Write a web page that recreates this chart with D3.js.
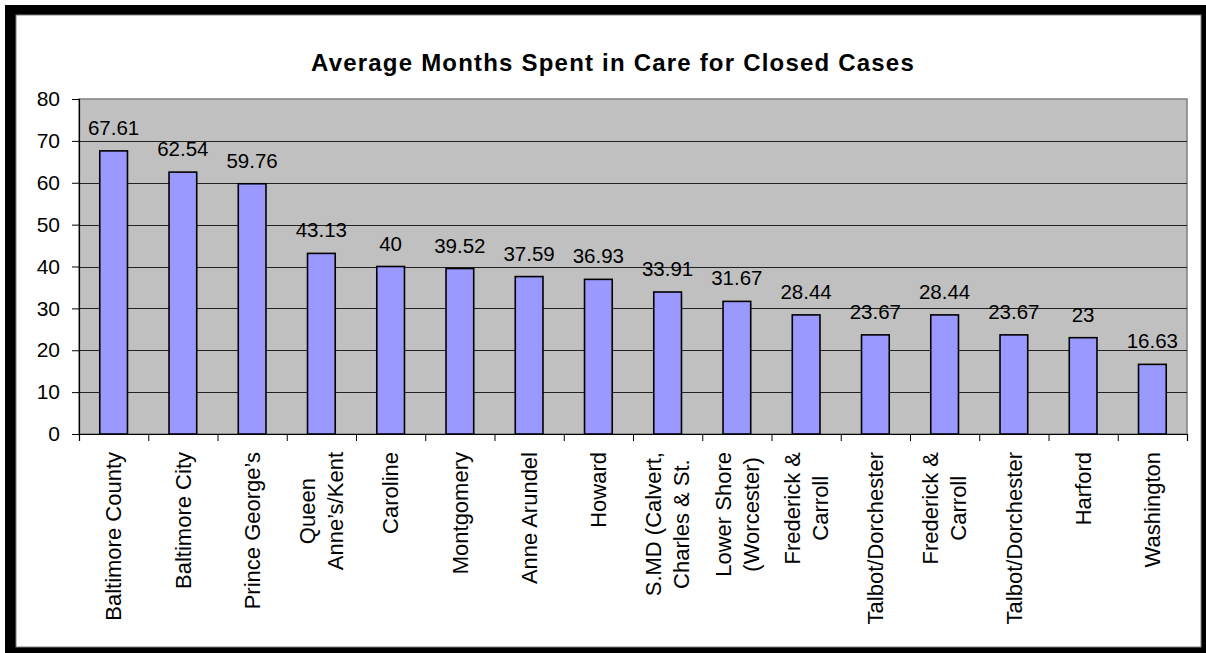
<!DOCTYPE html>
<html>
<head>
<meta charset="utf-8">
<script src="https://cdn.jsdelivr.net/npm/d3@7"></script>
<style>
  html, body { margin: 0; padding: 0; background: #fff; }
  svg { display: block; font-family: "Liberation Sans", Arial, sans-serif; }
</style>
</head>
<body>
<svg id="chart" width="1206" height="653"></svg>
<script>
const title = "Average Months Spent in Care for Closed Cases";
const categories = [
  ["Baltimore County"],
  ["Baltimore City"],
  ["Prince George\u2019s"],
  ["Queen", "Anne\u2019s/Kent"],
  ["Caroline"],
  ["Montgomery"],
  ["Anne Arundel"],
  ["Howard"],
  ["S.MD (Calvert,", "Charles & St."],
  ["Lower Shore", "(Worcester)"],
  ["Frederick &", "Carroll"],
  ["Talbot/Dorchester"],
  ["Frederick &", "Carroll"],
  ["Talbot/Dorchester"],
  ["Harford"],
  ["Washington"]
];
const values = [67.61, 62.54, 59.76, 43.13, 40, 39.52, 37.59, 36.93, 33.91, 31.67, 28.44, 23.67, 28.44, 23.67, 23, 16.63];
const yTicks = [0, 10, 20, 30, 40, 50, 60, 70, 80];

const svg = d3.select("#chart");
const W = 1206, H = 653;
const plot = { left: 79, right: 1187, top: 99, bottom: 434 };

// frame
svg.append("rect").attr("x", 5).attr("y", 5).attr("width", W - 5).attr("height", H - 5).attr("fill", "#000");
svg.append("rect").attr("x", 16).attr("y", 15).attr("width", 1185).attr("height", 632)
  .attr("fill", "#fff").attr("stroke", "#808080").attr("stroke-width", 1);

const x = d3.scaleBand().domain(d3.range(categories.length))
  .range([plot.left, plot.right]).paddingInner(0.6).paddingOuter(0.3);
const xb = d3.scaleLinear().domain([0, categories.length]).range([plot.left, plot.right]);
const y = d3.scaleLinear().domain([0, 80]).range([plot.bottom, plot.top]);

// plot background
svg.append("rect").attr("x", plot.left).attr("y", plot.top)
  .attr("width", plot.right - plot.left).attr("height", plot.bottom - plot.top)
  .attr("fill", "#C0C0C0").attr("stroke", "#808080").attr("stroke-width", 1.5);

// gridlines
svg.append("g").selectAll("line").data(yTicks.filter(t => t > 0 && t < 80)).join("line")
  .attr("x1", plot.left).attr("x2", plot.right)
  .attr("y1", d => Math.round(y(d)) + 0.5).attr("y2", d => Math.round(y(d)) + 0.5)
  .attr("stroke", "#222").attr("stroke-width", 1);

// bars
svg.append("g").selectAll("rect").data(values).join("rect")
  .attr("x", (d, i) => x(i)).attr("width", x.bandwidth())
  .attr("y", d => y(d)).attr("height", d => y(0) - y(d))
  .attr("fill", "#9999FF").attr("stroke", "#000").attr("stroke-width", 1.6);

// data labels
svg.append("g").selectAll("text").data(values).join("text")
  .attr("x", (d, i) => x(i) + x.bandwidth() / 2)
  .attr("y", d => y(d) - 16)
  .attr("text-anchor", "middle").attr("font-size", 20.5).attr("fill", "#000")
  .text(d => String(d));

// y axis
const ya = svg.append("g").attr("transform", `translate(${plot.left},0)`)
  .call(d3.axisLeft(y).tickValues(yTicks).tickSize(7).tickPadding(12).tickFormat(d3.format("d")));
ya.select(".domain").attr("stroke", "#000").attr("stroke-width", 1.2);
ya.selectAll(".tick line").attr("stroke", "#000");
ya.selectAll(".tick text").attr("font-size", 21).attr("fill", "#000")
  .attr("font-family", "Liberation Sans, Arial, sans-serif");

// x axis (ticks between categories)
const xa = svg.append("g").attr("transform", `translate(0,${plot.bottom})`)
  .call(d3.axisBottom(xb).ticks(categories.length).tickSize(7).tickFormat(""));
xa.select(".domain").attr("stroke", "#000").attr("stroke-width", 1.2);
xa.selectAll(".tick line").attr("stroke", "#000");

// category labels
const labelTop = 452, lineH = 28;
const lg = svg.append("g");
categories.forEach((lines, i) => {
  const cx = x(i) + x.bandwidth() / 2;
  const g = lg.append("g").attr("transform", `translate(${cx},${labelTop}) rotate(-90)`);
  const texts = lines.map((ln, j) => g.append("text")
    .attr("font-size", 22).attr("fill", "#000")
    .attr("y", (j - (lines.length - 1) / 2) * lineH)
    .attr("dy", "0.35em")
    .text(ln));
  const maxLen = d3.max(texts, t => t.node().getComputedTextLength());
  texts.forEach(t => t.attr("text-anchor", "middle").attr("x", -maxLen / 2));
});

// title
svg.append("text").attr("x", 613).attr("y", 71)
  .attr("text-anchor", "middle").attr("font-size", 24).attr("font-weight", "bold")
  .attr("letter-spacing", 1.2).attr("fill", "#000")
  .text(title);
</script>
</body>
</html>
